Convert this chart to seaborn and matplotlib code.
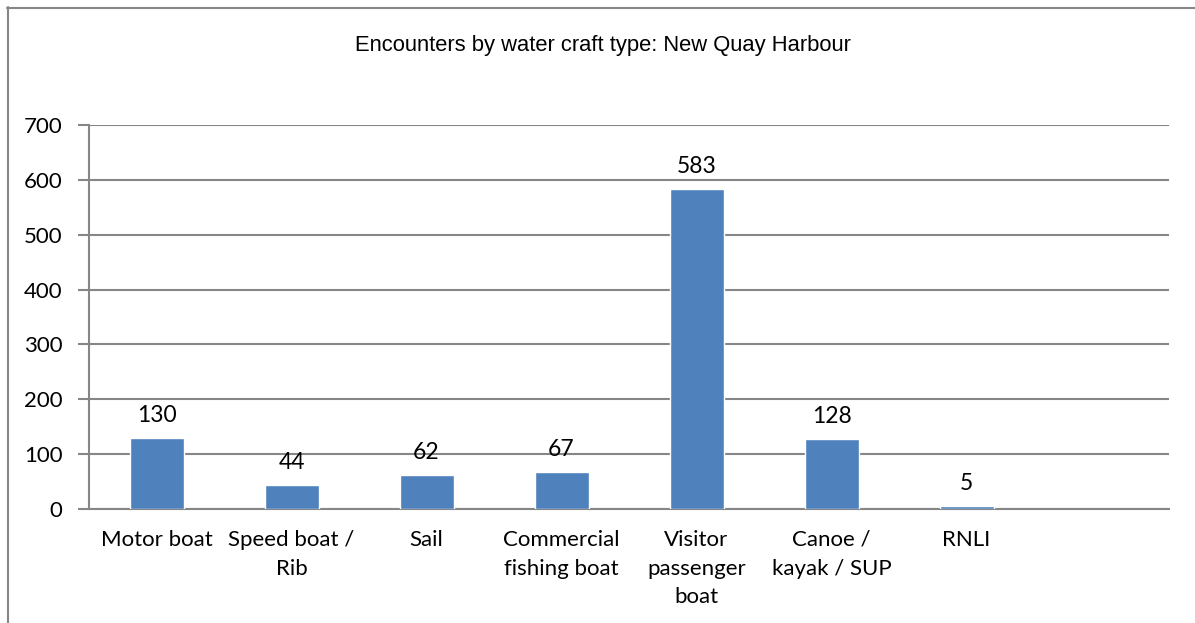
import matplotlib
matplotlib.use("Agg")
import matplotlib.pyplot as plt
import seaborn as sns
import pandas as pd
from matplotlib.lines import Line2D

# data
craft_types = ["Motor boat", "Speed boat /\nRib", "Sail", "Commercial\nfishing boat",
               "Visitor\npassenger\nboat", "Canoe /\nkayak / SUP", "RNLI", ""]
encounters = [130, 44, 62, 67, 583, 128, 5, None]
y_ticks = [0, 100, 200, 300, 400, 500, 600, 700]

df = pd.DataFrame({"craft": craft_types, "count": encounters})

sns.set_style("white")
plt.rcParams["font.family"] = ["Lato", "DejaVu Sans"]
plt.rcParams["text.color"] = "black"
plt.rcParams["xtick.labelcolor"] = "black"
plt.rcParams["ytick.labelcolor"] = "black"

grey = "#868686"
fig = plt.figure(figsize=(11.95, 6.23), dpi=100)
ax = fig.add_axes([89 / 1195, 1 - 509 / 623, (1169 - 89) / 1195, (509 - 125) / 623])

sns.barplot(data=df, x="craft", y="count", color="#4f81bd", width=0.4,
            saturation=1, ax=ax, zorder=3)

ax.set_ylim(0, 700)
ax.set_xlim(-0.5, len(craft_types) - 0.5)
ax.set_yticks(y_ticks)
ax.set_xticks([i - 0.5 for i in range(len(craft_types) + 1)], minor=True)
ax.set_xticks(range(len(craft_types)))
ax.set_xticklabels(craft_types, fontsize=16, linespacing=1.55, va="top", color="black")
ax.tick_params(axis="x", which="major", length=0, pad=15)
ax.tick_params(axis="x", which="minor", length=7, width=1.5, color=grey, direction="out")
ax.tick_params(axis="y", length=8, width=1.5, color=grey, labelsize=16, pad=11, left=True,
               labelcolor="black")
ax.grid(axis="y", color=grey, linewidth=1.5, zorder=0)
ax.set_axisbelow(True)
ax.set_xlabel("")
ax.set_ylabel("")

for s in ["top", "right"]:
    ax.spines[s].set_visible(False)
for s in ["left", "bottom"]:
    ax.spines[s].set_color(grey)
    ax.spines[s].set_linewidth(1.5)

# value labels
for i, v in enumerate(encounters):
    if v is not None:
        ax.text(i, v + 22, str(v), ha="center", va="bottom", fontsize=16.5, color="black")

fig.text(603 / 1195, 1 - 45 / 623, "Encounters by water craft type: New Quay Harbour",
         ha="center", va="center", fontsize=15.8, color="black",
         family=["Liberation Sans Narrow", "DejaVu Sans Condensed", "Liberation Sans", "DejaVu Sans"])

# outer chart border (only top and left visible in the crop)
fig.add_artist(Line2D([7 / 1195, 1], [1 - 7.5 / 623, 1 - 7.5 / 623], color=grey, lw=1.5))
fig.add_artist(Line2D([7.5 / 1195, 7.5 / 1195], [0, 1 - 7 / 623], color=grey, lw=1.5))

fig.savefig("out.png", dpi=100)
